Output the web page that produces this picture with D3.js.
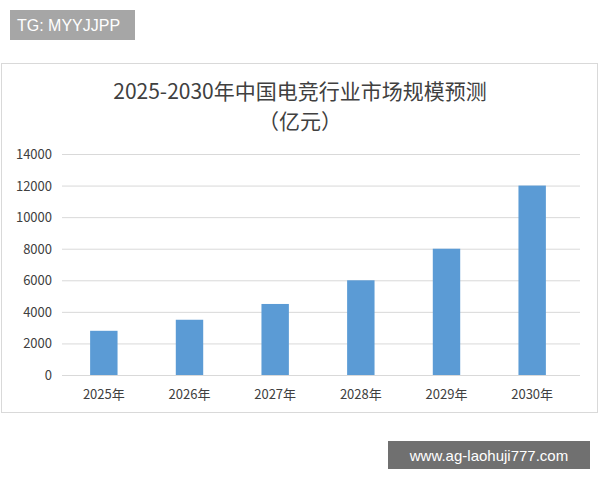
<!DOCTYPE html><html><head><meta charset="utf-8"><script src="https://cdn.jsdelivr.net/npm/d3@7"></script>
<style>body{margin:0;background:#fff}</style></head><body><svg id="c" width="600" height="480"></svg>
<script>
const categories=["2025年","2026年","2027年","2028年","2029年","2030年"];
const values=[2800,3500,4500,6000,8000,12000];
const yTicks=[0,2000,4000,6000,8000,10000,12000,14000];
const svg=d3.select("#c");
const f="'Noto Sans CJK SC','Noto Sans',sans-serif";
svg.append("rect").attr("x",1.5).attr("y",63.5).attr("width",596).attr("height",349).attr("fill","#fff").attr("stroke","#d9d9d9");
svg.append("rect").attr("x",10).attr("y",10).attr("width",125).attr("height",30).attr("fill","#a6a6a6");
svg.append("text").attr("x",17).attr("y",31).attr("fill","#fff").attr("font-size",16).attr("font-family","Arial,'Liberation Sans',sans-serif").text("TG: MYYJJPP");
svg.append("text").attr("x",300).attr("y",99).attr("text-anchor","middle").attr("font-size",21).attr("fill","#404040").attr("font-family",f).text("2025-2030年中国电竞行业市场规模预测");
svg.append("text").attr("x",300).attr("y",129).attr("text-anchor","middle").attr("font-size",21).attr("fill","#404040").attr("font-family",f).text("（亿元）");
const x=d3.scaleBand().domain(categories).range([61,575]).paddingInner(0.68).paddingOuter(0.34);
const y=d3.scaleLinear().domain([0,14000]).range([375,154]);
const g=svg.append("g");
g.selectAll("line.g").data(yTicks).join("line").attr("x1",62).attr("x2",580).attr("y1",d=>y(d)+.5).attr("y2",d=>y(d)+.5).attr("stroke","#d9d9d9");
g.selectAll("rect.b").data(values).join("rect").attr("x",(d,i)=>x(categories[i])).attr("width",x.bandwidth()).attr("y",d=>y(d)).attr("height",d=>y(0)-y(d)).attr("fill","#5b9bd5");
g.selectAll("text.y").data(yTicks).join("text").attr("x",52).attr("y",d=>y(d)+5).attr("text-anchor","end").attr("font-size",13).attr("fill","#404040").attr("font-family",f).text(d=>d);
g.selectAll("text.x").data(categories).join("text").attr("x",d=>x(d)+x.bandwidth()/2).attr("y",399).attr("text-anchor","middle").attr("font-size",13).attr("fill","#404040").attr("font-family",f).text(d=>d);
svg.append("rect").attr("x",388).attr("y",441).attr("width",202).attr("height",28).attr("fill","#707070");
svg.append("text").attr("x",489).attr("y",461).attr("text-anchor","middle").attr("fill","#fff").attr("font-size",15).attr("font-family","Arial,'Liberation Sans',sans-serif").text("www.ag-laohuji777.com");
</script></body></html>
